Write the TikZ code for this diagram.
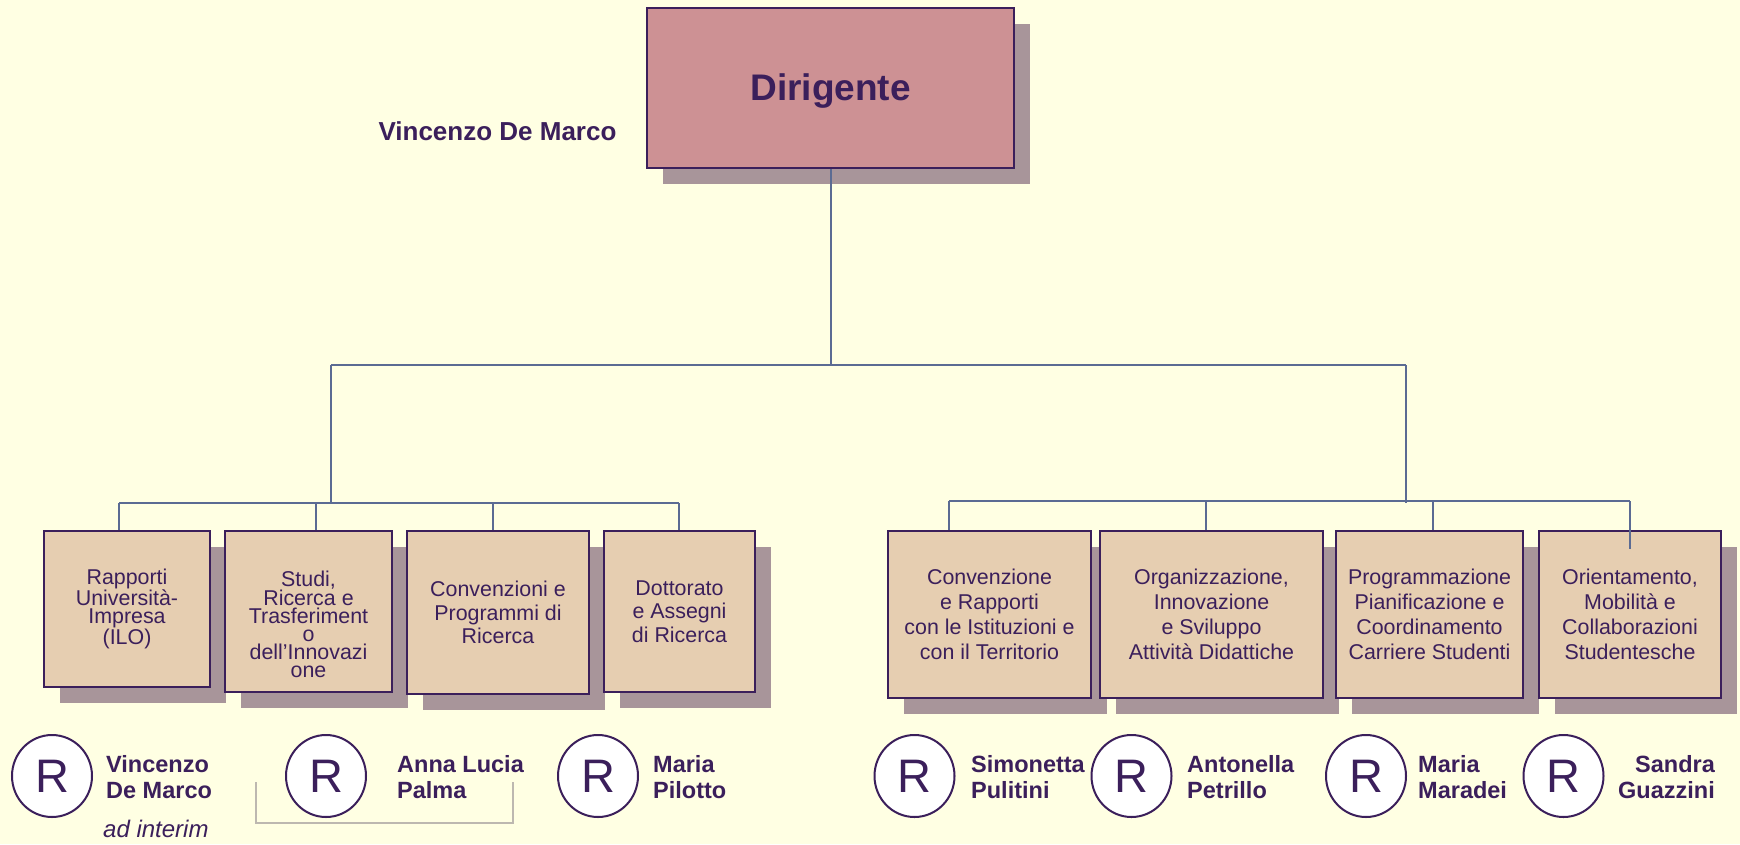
\documentclass[tikz,border=0pt]{standalone}
\usepackage{fontspec}
\setmainfont{Liberation Sans}
\usetikzlibrary{shadows,shapes.geometric}
\definecolor{bgc}{HTML}{FFFFE3}
\definecolor{dirfill}{HTML}{CD9194}
\definecolor{unitfill}{HTML}{E6CEB1}
\definecolor{shadowc}{HTML}{A8959A}
\definecolor{border}{HTML}{3B1F5B}
\definecolor{textc}{HTML}{3B1F5B}
\definecolor{connc}{HTML}{5B6B93}
\definecolor{bracketc}{HTML}{BDB8B0}
\begin{document}
\begin{tikzpicture}[x=1pt,y=-1pt,
  box/.style={draw=border,line width=2pt,inner sep=1pt,align=center,text=textc,
    drop shadow={shadow xshift=16pt,shadow yshift=-16pt,fill=shadowc,opacity=1}},
  unit/.style={box,fill=unitfill,font=\fontsize{21.4}{25}\selectfont},
  tighttext/.style={font=\fontsize{21.4}{18}\selectfont},
  midtext/.style={font=\fontsize{21.4}{23.3}\selectfont},
  conn/.style={draw=connc,line width=2pt},
  rc/.style={ellipse,draw=border,line width=2pt,fill=white,minimum width=80pt,minimum height=82pt,inner sep=0pt,text=textc,font=\fontsize{47}{47}\selectfont},
  nm/.style={inner sep=0pt,text=textc,font=\bfseries\fontsize{23.5}{25.5}\selectfont}
]
\fill[bgc] (0,0) rectangle (1740,844);
\useasboundingbox (0,0) rectangle (1740,844);

% top
\node[box,fill=dirfill,minimum width=367pt,minimum height=160pt] (dir) at (830.5,88) {};
\node[inner sep=0pt,text=textc,font=\bfseries\fontsize{37}{40}\selectfont] (dirt) at (830.5,91) {Dirigente};
\node[inner sep=0pt,text=textc,font=\bfseries\fontsize{26}{28}\selectfont] (dirname) at (497.5,131) {Vincenzo De Marco};

% units left
\node[unit,tighttext,minimum width=166pt,minimum height=156pt] (b1) at (127,609) {Rapporti\\Università-\\Impresa\\(ILO)};
\node[unit,minimum width=167pt,minimum height=161pt] (b2) at (308.5,611.5) {};
\node[tighttext,text=textc,align=center,inner sep=0pt] (b2t) at (308.5,624) {Studi,\\Ricerca e\\Trasferiment\\o\\dell’Innovazi\\one};
\node[unit,midtext,minimum width=182pt,minimum height=163pt] (b3) at (498,612.5) {Convenzioni e\\Programmi di\\Ricerca};
\node[unit,midtext,minimum width=151pt,minimum height=161pt] (b4) at (679.5,611.5) {Dottorato\\e Assegni\\di Ricerca};

% units right
\node[unit,minimum width=203pt,minimum height=167pt] (b5) at (989.5,614.5) {Convenzione\\e Rapporti\\con le Istituzioni e\\con il Territorio};
\node[unit,minimum width=223pt,minimum height=167pt] (b6) at (1211.5,614.5) {Organizzazione,\\Innovazione\\e Sviluppo\\Attività Didattiche};
\node[unit,minimum width=187pt,minimum height=167pt] (b7) at (1429.5,614.5) {Programmazione\\Pianificazione e\\Coordinamento\\Carriere Studenti};
\node[unit,minimum width=182pt,minimum height=167pt] (b8) at (1630,614.5) {Orientamento,\\Mobilità e\\Collaborazioni\\Studentesche};

% connectors
\coordinate (j0) at (830.5,365);
\coordinate (jl) at (331,365);
\coordinate (jr) at (1406,365);
\coordinate (jlb) at (331,503);
\coordinate (jrb) at (1406,503);
\coordinate (l1) at (119,503);
\coordinate (l2) at (316,503);
\coordinate (l3) at (493,503);
\coordinate (l4) at (679,503);
\coordinate (r1) at (949,501);
\coordinate (r2) at (1206,501);
\coordinate (r3) at (1433,501);
\coordinate (r4) at (1630,501);
\coordinate (r4e) at (1630,549);
\draw[conn] (dir.south) -- (j0);
\draw[conn] (jl) -- (jr);
\draw[conn] (jl) -- (jlb);
\draw[conn] (jr) -- (jrb);
\draw[conn] (l1) -- (l4);
\draw[conn] (l1) -- (l1 |- b1.north);
\draw[conn] (l2) -- (l2 |- b2.north);
\draw[conn] (l3) -- (l3 |- b3.north);
\draw[conn] (l4) -- (l4 |- b4.north);
\draw[conn] (r1) -- (r4);
\draw[conn] (r1) -- (r1 |- b5.north);
\draw[conn] (r2) -- (r2 |- b6.north);
\draw[conn] (r3) -- (r3 |- b7.north);
\draw[conn] (r4) -- (r4e);

% responsible circles
\node[rc] (c1) at (52,776) {R};
\node[rc] (c2) at (326,776) {R};
\node[rc] (c3) at (598,776) {R};
\node[rc] (c4) at (914.5,776) {R};
\node[rc] (c5) at (1131.5,776) {R};
\node[rc] (c6) at (1366,776) {R};
\node[rc] (c7) at (1563.5,776) {R};

% names
\node[nm,anchor=west,align=left] (n1) at (106,777) {Vincenzo\\De Marco};
\node[nm,anchor=west,align=left] (n2) at (397,777) {Anna Lucia\\Palma};
\node[nm,anchor=west,align=left] (n3) at (653,777) {Maria\\Pilotto};
\node[nm,anchor=west,align=left] (n4) at (971,777) {Simonetta\\Pulitini};
\node[nm,anchor=west,align=left] (n5) at (1187,777) {Antonella\\Petrillo};
\node[nm,anchor=west,align=left] (n6) at (1418,777) {Maria\\Maradei};
\node[nm,anchor=east,align=right] (n7) at (1715,777) {Sandra\\Guazzini};
\node[inner sep=0pt,text=textc,anchor=west,font=\itshape\fontsize{24}{24}\selectfont] (adint) at (103,829) {ad interim};

% bracket
\draw[bracketc,line width=1.2pt] (256,782) -- (256,823) -- (513,823) -- (513,782);
\end{tikzpicture}
\end{document}
